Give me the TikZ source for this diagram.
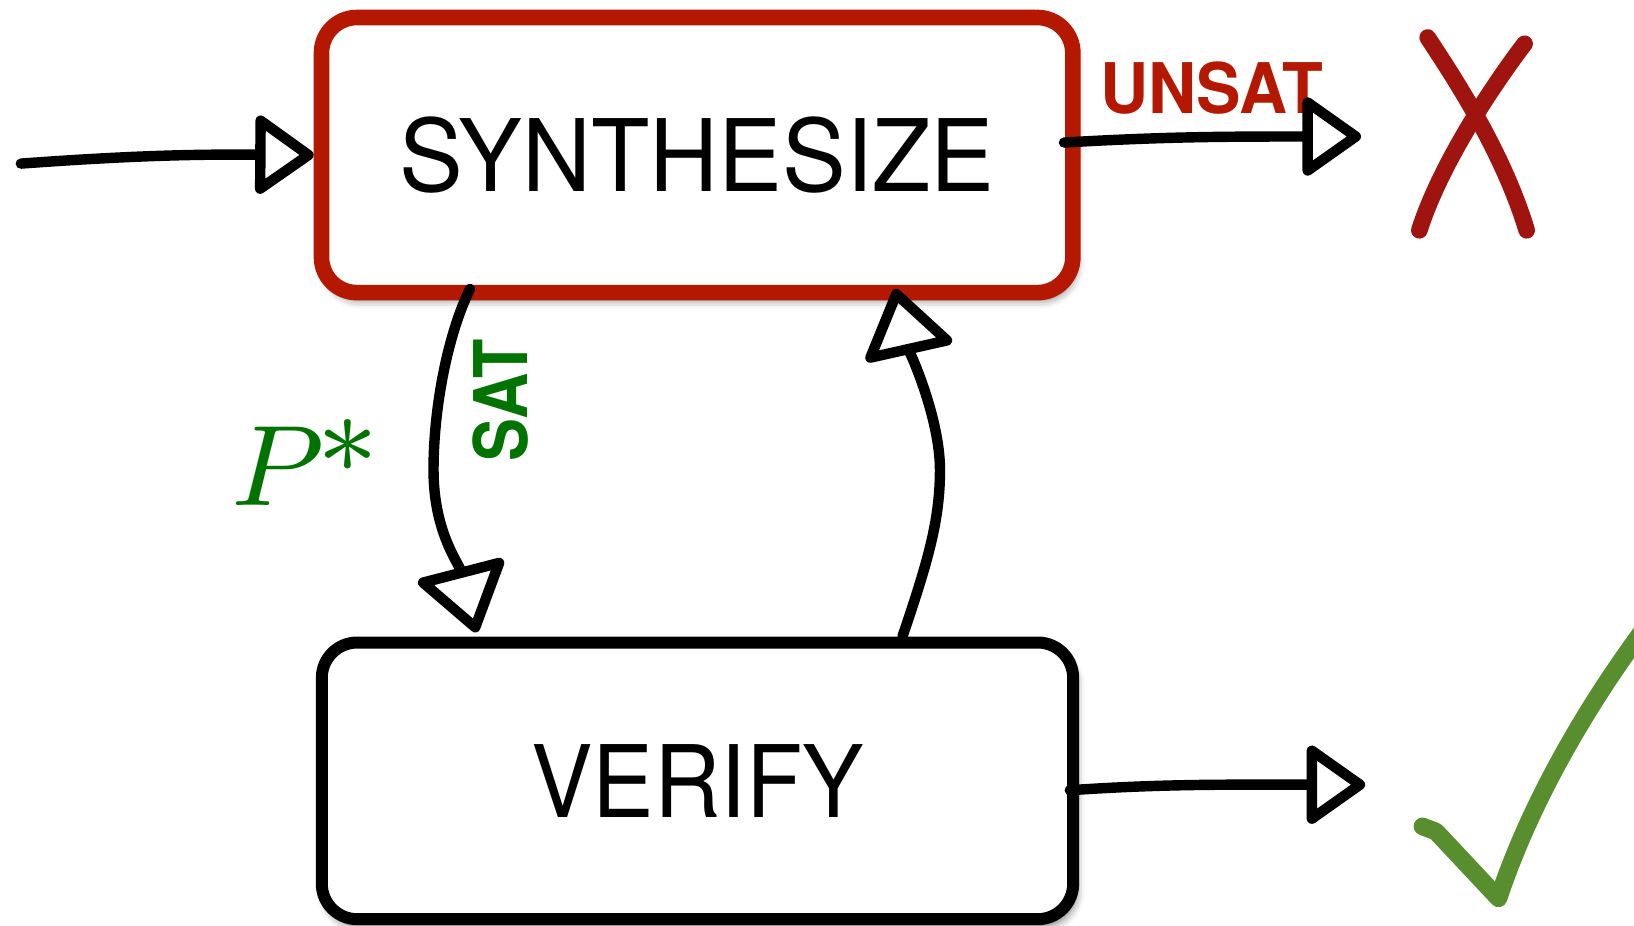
\RequirePackage{fix-cm}
\documentclass[tikz,border=0pt]{standalone}
\usepackage{fontspec}
\setsansfont{TeX Gyre Heros}
\usepackage{graphicx}
\usetikzlibrary{arrows.meta,shadows.blur,calc}
\definecolor{boxred}{RGB}{180,24,0}
\definecolor{xred}{RGB}{160,20,15}
\definecolor{satgreen}{RGB}{0,115,0}
\definecolor{checkgreen}{RGB}{88,142,46}
\begin{document}
\begin{tikzpicture}[x=1pt,y=-1pt,
  box/.style={draw, rounded corners=34pt, minimum width=721pt, minimum height=264pt,
    inner sep=0pt, fill=white,
    blur shadow={shadow xshift=3pt,shadow yshift=-7pt,shadow blur radius=8pt,shadow opacity=55},
    font=\sffamily\fontsize{96}{96}\selectfont},
  conn/.style={line width=10pt, line cap=round, line join=round},
  tipH/.style={-{Triangle[open,round,length=60pt,width=82pt]}},
  tipC/.style={-{Triangle[open,round,length=68pt,width=92pt]}},
  handmark/.style={line width=16pt, line cap=round, line join=round}
]
\useasboundingbox (0,0) rectangle (1568,888);

% boxes
\node[box, draw=boxred, line width=15pt] (synth) at (669,148.8) {\scalebox{0.955}[1]{SYNTHESIZE}};
\node[box, draw=black, line width=11.5pt, minimum height=265.5pt] (verify) at (669.3,749.3) {\scalebox{0.92}[1]{VERIFY}};

% labels
\node[text=boxred, font=\sffamily\bfseries\fontsize{67}{67}\selectfont, anchor=base, inner sep=0pt] (unsat) at (1163,109) {\scalebox{0.955}[1]{UNSAT}};
\node[text=satgreen, font=\sffamily\bfseries\fontsize{71}{71}\selectfont, rotate=90, inner sep=0pt] (sat) at (480.5,384) {\scalebox{0.87}[1]{SAT}};
\node[text=satgreen, anchor=base, inner sep=0pt] (pstar) at (292,485) {\scalebox{13.75}{\fontsize{8}{8}\selectfont$P$\kern-0.06em*}};

% free ends
\coordinate (in0) at (20,157);
\coordinate (un1) at (1306,131);
\coordinate (ve1) at (1310,753);

% connectors
\draw[conn, tipH] (in0) .. controls (130,149) and (190,148) .. (synth.west);
\draw[conn, tipH] ([xshift=-16pt,yshift=12pt]synth.east) .. controls (1120,131) and (1180,131) .. (un1);
\draw[conn, tipH] ([xshift=-9pt,yshift=-9pt]verify.east) .. controls (1120,752) and (1180,753) .. (ve1);
\draw[conn, tipC] ([xshift=-218pt,yshift=11pt]synth.south) .. controls (430,320) and (416,390) .. (416,451)
   .. controls (416,510) and (440,540) .. ([xshift=-212pt,yshift=4pt]verify.north);
\draw[conn, tipC] ([xshift=196.7pt]verify.north) .. controls (890,540) and (902,500) .. (902,451)
   .. controls (902,400) and (872,335) .. ([xshift=190pt,yshift=11pt]synth.south);

% X mark
\draw[handmark, xred] (1370,36) .. controls (1395,74) and (1442,145) .. (1465,221);
\draw[handmark, xred] (1463,42) .. controls (1440,72) and (1384,152) .. (1362,221);

% check mark
\draw[handmark, checkgreen, line width=17pt] (1365,793) -- (1378,798) -- (1438,862)
   .. controls (1455,810) and (1495,715) .. (1578,603);
\end{tikzpicture}
\end{document}
